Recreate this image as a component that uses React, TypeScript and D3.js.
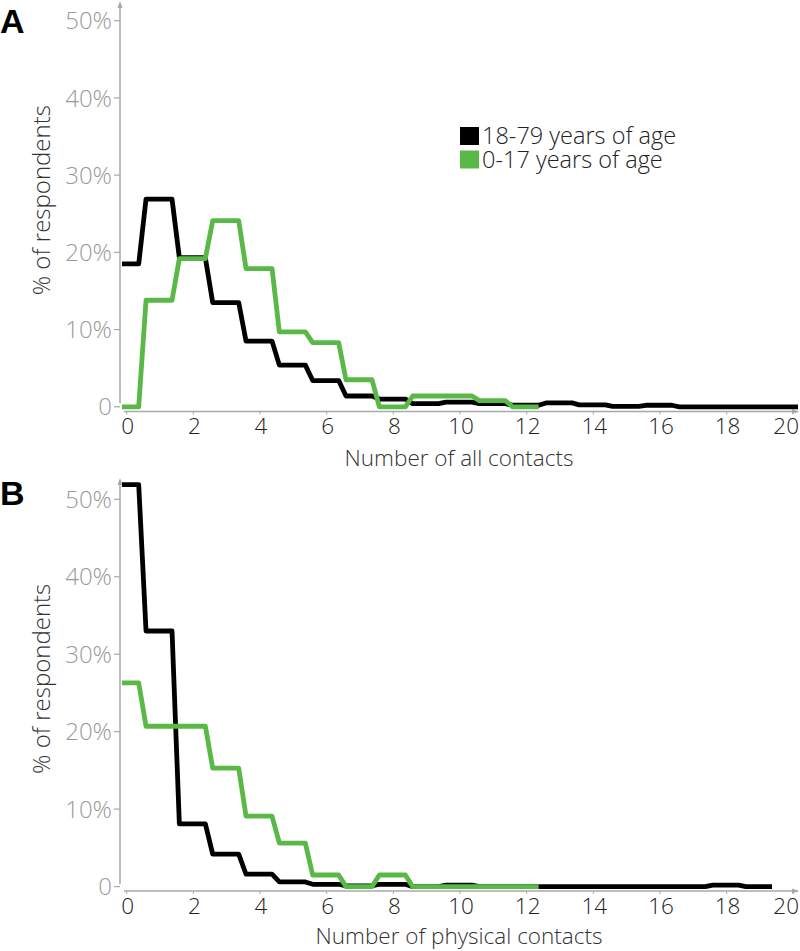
import React from "react";
import * as d3 from "d3";

const xTicks = [0, 2, 4, 6, 8, 10, 12, 14, 16, 18, 20];
const yTicks = [0, 10, 20, 30, 40, 50];
const yTickLabels = ["0", "10%", "20%", "30%", "40%", "50%"];

// Panel A: all contacts (% of respondents)
const allAdults = [18.5, 26.9, 19.3, 13.5, 8.5, 5.4, 3.4, 1.4, 1.0, 0.4, 0.6, 0.4, 0.2, 0.5, 0.25, 0.05, 0.2, 0, 0, 0, 0];
const allChildren = [0, 13.8, 19.2, 24.1, 17.9, 9.7, 8.3, 3.5, 0, 1.4, 1.4, 0.8, 0];

// Panel B: physical contacts
const physAdults = [51.9, 33.0, 8.1, 4.2, 1.6, 0.6, 0.3, 0.1, 0.3, 0, 0.2, 0, 0, 0, 0, 0, 0, 0, 0.2, 0];
const physChildren = [26.3, 20.7, 20.7, 15.3, 9.1, 5.6, 1.5, 0, 1.5, 0, 0, 0, 0];

const legendLabels = ["18-79 years of age", "0-17 years of age"];
const colors = ["#000000", "#5ab946"];

const FONT = "'Open Sans', Roboto, 'Liberation Sans', Arial, sans-serif";

function stepPoints(vals: number[]): [number, number][] {
  const pts: [number, number][] = [];
  vals.forEach((v, i) => {
    pts.push([i - 0.42, v]);
    pts.push([i + 0.36, v]);
  });
  return pts;
}

type PanelProps = {
  id: string;
  letter: string;
  letterY: number;
  yTop: number;
  yZero: number;
  axisTop: number;
  axisBottom: number;
  xAxisY: number;
  titleOffset: number;
  title: string;
  adults: number[];
  children: number[];
  legend: boolean;
};

function Panel(p: PanelProps) {
  const x = d3.scaleLinear().domain([0, 20]).range([126.7, 793.3]);
  const y = d3.scaleLinear().domain([0, 50]).range([p.yZero, p.yTop]);
  const line = d3
    .line<[number, number]>()
    .x((d) => x(d[0]))
    .y((d) => y(d[1]));
  const axisX = 120;
  const gray = "#a8a8a8";
  return (
    <g>
      <defs>
        <clipPath id={"clip" + p.id}>
          <rect x={122} y={0} width={676} height={951} />
        </clipPath>
      </defs>
      <text x={0} y={p.letterY} fontFamily="'Liberation Sans', Arial, sans-serif" fontWeight="bold" fontSize={34} fill="#000">
        {p.letter}
      </text>
      {/* y axis */}
      <line x1={axisX} x2={axisX} y1={p.axisTop + 3} y2={p.axisBottom} stroke={gray} strokeWidth={1.5} />
      <path d={`M${axisX - 2.5},${p.axisTop + 7} L${axisX},${p.axisTop} L${axisX + 2.5},${p.axisTop + 7} Z`} fill={gray} />
      {yTicks.map((t, i) => (
        <g key={t}>
          <line x1={axisX - 6} x2={axisX} y1={y(t)} y2={y(t)} stroke={gray} strokeWidth={1.2} />
          <text x={112} y={y(t)} dy="0.36em" textAnchor="end" fontFamily={FONT} fontWeight={300} fontSize={24} fill="#9a9a9a">
            {yTickLabels[i]}
          </text>
        </g>
      ))}
      <text
        transform={`translate(50,${p.yTop + 179.5}) rotate(-90)`}
        textAnchor="middle"
        fontFamily={FONT}
        fontWeight={300}
        fontSize={24}
        fill="#333"
      >
        % of respondents
      </text>
      {/* x axis */}
      <line x1={124} x2={798} y1={p.xAxisY} y2={p.xAxisY} stroke={gray} strokeWidth={1.5} />
      <path d={`M${792},${p.xAxisY - 2.5} L${799},${p.xAxisY} L${792},${p.xAxisY + 2.5} Z`} fill={gray} />
      {xTicks.map((t) => (
        <g key={t}>
          <line x1={x(t)} x2={x(t)} y1={p.xAxisY} y2={p.xAxisY + 3} stroke={gray} strokeWidth={1} />
          <text
            x={t === 20 ? 799 : x(t) + 1}
            y={p.xAxisY + 14.5}
            dy="0.36em"
            textAnchor={t === 20 ? "end" : "middle"}
            fontFamily={FONT}
            fontWeight={300}
            fontSize={22.5}
            fill="#222"
          >
            {t}
          </text>
        </g>
      ))}
      <text x={459} y={p.xAxisY + p.titleOffset} dy="0.36em" textAnchor="middle" fontFamily={FONT} fontWeight={300} fontSize={22.5} fill="#333">
        {p.title}
      </text>
      {/* lines */}
      <g clipPath={`url(#clip${p.id})`}>
        <path d={line(stepPoints(p.adults)) || ""} fill="none" stroke={colors[0]} strokeWidth={4.8} strokeLinejoin="round" />
        <path d={line(stepPoints(p.children)) || ""} fill="none" stroke={colors[1]} strokeWidth={4.8} strokeLinejoin="round" />
      </g>
      {p.legend && (
        <g>
          {legendLabels.map((l, i) => (
            <rect key={l} x={460} y={127 + i * 23.5} width={19} height={18} fill={colors[i]} />
          ))}
          <text fontFamily={FONT} fontWeight={300} fontSize={23.5} fill="#222">
            {legendLabels.map((l, i) => (
              <tspan key={l} x={482} y={144 + i * 23.5}>
                {l}
              </tspan>
            ))}
          </text>
        </g>
      )}
    </g>
  );
}

export default function App() {
  return (
    <svg width={800} height={951} style={{ position: "absolute", left: 0, top: 0, background: "#fff" }}>
      <rect width={800} height={951} fill="#fff" />
      <Panel
        id="a"
        letter="A"
        letterY={33}
        yTop={20.7}
        yZero={406.8}
        axisTop={1}
        axisBottom={403}
        xAxisY={411.5}
        titleOffset={46.5}
        title="Number of all contacts"
        adults={allAdults}
        children={allChildren}
        legend={true}
      />
      <Panel
        id="b"
        letter="B"
        letterY={505}
        yTop={499.3}
        yZero={886.6}
        axisTop={478}
        axisBottom={884}
        xAxisY={891}
        titleOffset={45}
        title="Number of physical contacts"
        adults={physAdults}
        children={physChildren}
        legend={false}
      />
    </svg>
  );
}
